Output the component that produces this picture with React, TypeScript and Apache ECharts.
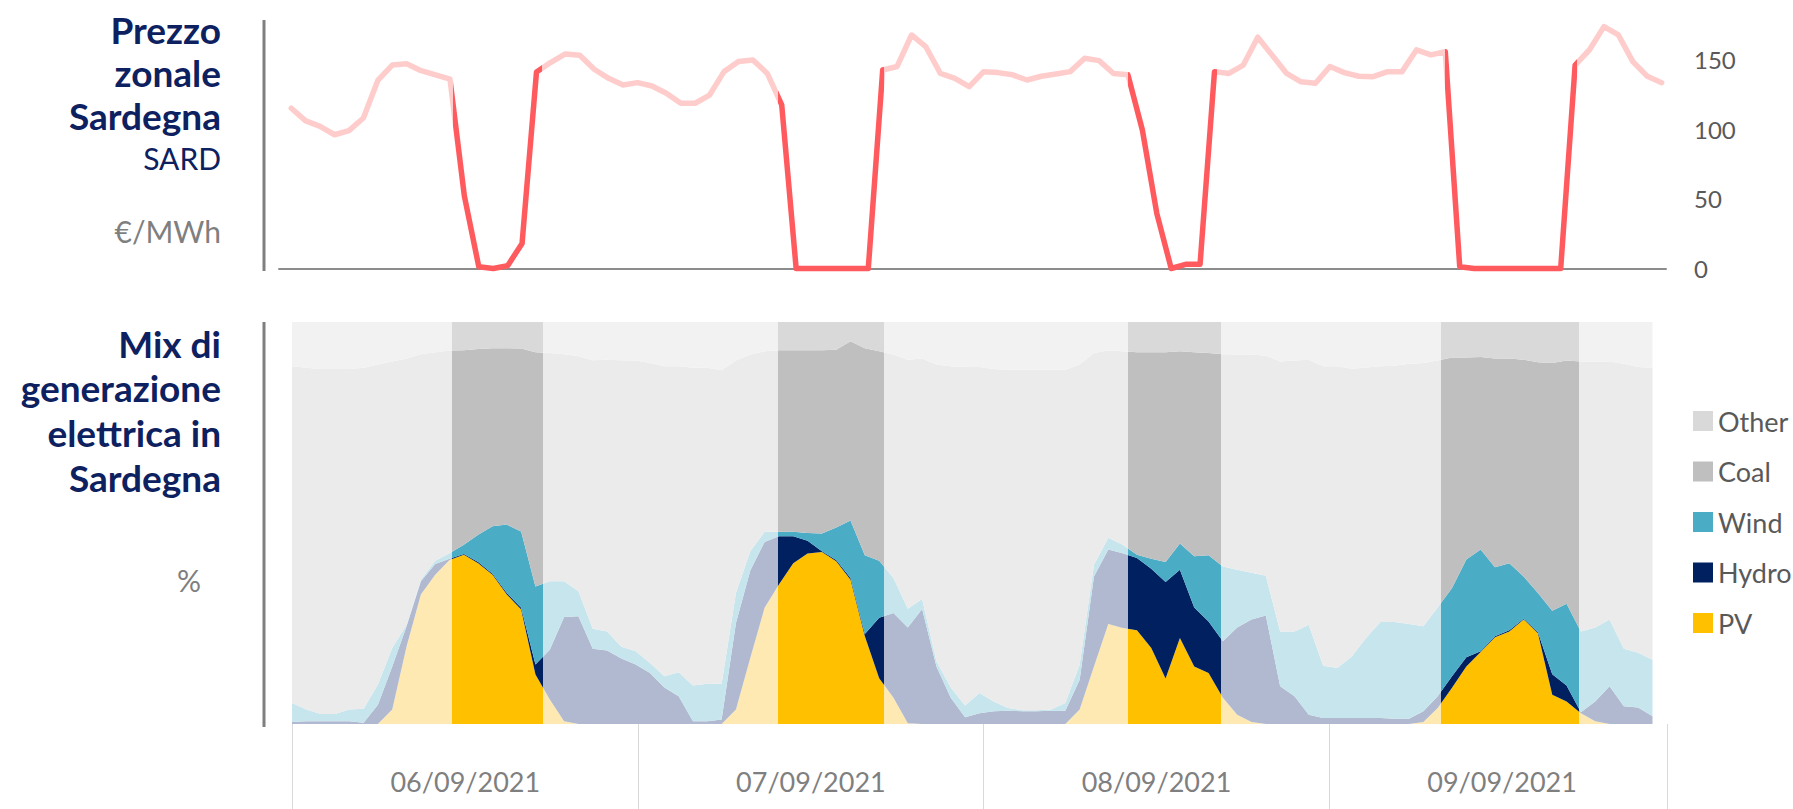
import React, { useEffect, useRef } from 'react';
import * as echarts from 'echarts';

// ---- data ----
const dayLabels = ['06/09/2021', '07/09/2021', '08/09/2021', '09/09/2021'];
const priceTickLabels = [0, 50, 100, 150];

// Zonal price SARD, €/MWh, hourly (4 days x 24 h)
const price = [
  115, 106, 102, 96, 99, 108, 135, 146, 147, 142, 139, 136, 52, 1.3, 0, 2, 18, 141, 148, 154, 153, 143, 136.5, 131.7,
  133.4, 131, 125.8, 118.6, 118.6, 124.5, 141.3, 148.5, 149.7, 140, 117.4, 0, 0, 0, 0, 0, 0, 142.5, 145, 167.6, 159, 140, 136.5, 130.5,
  141.3, 140.6, 139, 135.3, 138, 139.6, 141.3, 150.9, 149.2, 140, 139, 99.4, 39.6, 0, 3, 3, 141.3, 140, 146, 166, 153, 140, 134, 133,
  145, 140.6, 138, 137.7, 141.3, 141.3, 156.9, 153.3, 155.6, 1.3, 0, 0, 0, 0, 0, 0, 0, 146, 157, 173.6, 167.6, 148.5, 138, 133.4,
];

// Generation mix, % (stacked bottom → top: PV, Hydro, Wind, Coal, Other)
const pv = [
  0, 0, 0, 0, 0, 0, 0, 3.6, 19.3, 32.2, 37.1, 40.8, 42.1, 40.0, 37.1, 32.2, 28.5, 12.3, 6.1, 0.7, 0, 0, 0, 0,
  0, 0, 0, 0, 0, 0, 0, 3.6, 16.4, 28.9, 34.7, 40.0, 42.4, 42.8, 40.5, 35.9, 21.8, 11.4, 6.5, 0.2, 0, 0, 0, 0,
  0, 0, 0, 0, 0, 0, 0, 3.6, 14.3, 24.9, 23.9, 23.3, 18.9, 11.3, 21.4, 14.3, 12.7, 6.5, 2.3, 0.5, 0, 0, 0, 0,
  0, 0, 0, 0, 0, 0, 0, 0.5, 4.0, 9.0, 14.3, 17.9, 21.6, 23.0, 26.0, 22.6, 7.3, 5.6, 2.7, 0.7, 0, 0, 0, 0,
];
const hydro = [
  0.5, 0.7, 0.7, 0.7, 0.7, 0.3, 4.8, 10.7, 5.0, 3.3, 2.7, 0.3, 0.2, 0.3, 0.3, 0.4, 0.4, 2.5, 12.4, 25.9, 26.8, 18.7, 18.3, 16.3,
  14.8, 12.7, 9.1, 6.9, 0.7, 0.7, 1.1, 21.5, 21.8, 16.4, 12.0, 6.7, 3.2, 0.2, 0.3, 0.4, 0.6, 15.0, 21.1, 23.8, 28.6, 14.3, 6.5, 1.7,
  2.7, 3.2, 3.3, 3.2, 3.2, 3.3, 3.3, 7.4, 22.4, 18.5, 18.6, 18.0, 19.7, 24.0, 17.0, 14.7, 12.8, 14.1, 21.7, 25.5, 27.0, 9.4, 6.9, 2.3,
  1.5, 1.5, 1.5, 1.5, 1.5, 1.3, 1.3, 2.7, 2.9, 2.9, 2.3, 0.2, 0.2, 0.3, 0.2, 0.2, 5.1, 4.0, 0.2, 4.9, 9.4, 4.4, 4.1, 1.9,
];
const wind = [
  4.7, 2.9, 1.8, 1.8, 2.9, 3.5, 5.0, 4.6, 0.4, 0.4, 0.8, 1.4, 2.3, 6.8, 11.8, 17.0, 19.0, 19.4, 17.0, 8.9, 6.2, 5.0, 4.7, 2.9,
  3.3, 2.5, 2.8, 6.0, 8.9, 9.3, 8.9, 7.5, 4.8, 2.5, 1.1, 1.1, 1.9, 4.4, 8.1, 14.3, 19.6, 14.2, 8.7, 4.7, 2.5, 1.3, 2.6, 2.9,
  5.0, 2.4, 0.7, 0.2, 0.2, 0.3, 1.9, 3.8, 2.9, 2.9, 2.1, 0.8, 2.5, 5.0, 6.5, 12.7, 16.5, 18.6, 14.4, 11.6, 9.9, 13.6, 16.1, 22.4,
  13.0, 12.4, 15.3, 19.9, 23.9, 24.1, 23.6, 21.1, 22.1, 21.9, 24.3, 25.3, 17.2, 16.7, 10.5, 9.8, 15.8, 20.3, 20.1, 18.4, 16.6, 14.3, 13.6, 14.1,
];
const coal = [
  83.8, 85.0, 85.8, 85.8, 84.7, 84.8, 79.6, 71.3, 66.2, 56.1, 51.9, 50.4, 48.4, 46.2, 44.3, 43.9, 45.5, 58.3, 56.8, 56.5, 58.5, 66.8, 67.6, 71.3,
  72.3, 74.6, 77.1, 76.1, 79.0, 78.6, 78.0, 57.8, 48.9, 44.9, 45.2, 45.2, 45.5, 45.6, 44.2, 44.6, 51.5, 52.1, 55.6, 61.9, 59.8, 73.8, 79.9, 84.2,
  81.1, 82.7, 84.1, 84.7, 84.7, 84.5, 82.9, 74.6, 52.7, 46.6, 48.1, 50.4, 51.4, 52.2, 47.8, 50.8, 50.3, 52.8, 53.5, 54.3, 54.7, 67.2, 67.4, 65.9,
  74.5, 75.1, 71.6, 67.3, 63.6, 63.7, 64.7, 65.5, 61.4, 57.4, 50.3, 47.9, 51.9, 50.9, 53.9, 57.4, 61.6, 60.5, 67.2, 66.2, 64.2, 70.9, 71.1, 72.6,
];
const other = [
  11.0, 11.4, 11.7, 11.7, 11.7, 11.4, 10.6, 9.8, 9.1, 8.0, 7.5, 7.1, 7.0, 6.7, 6.5, 6.5, 6.6, 7.5, 7.7, 8.0, 8.5, 9.5, 9.4, 9.5,
  9.6, 10.2, 11.0, 11.0, 11.4, 11.4, 12.0, 9.6, 8.1, 7.3, 7.0, 7.0, 7.0, 7.0, 6.9, 4.8, 6.5, 7.3, 8.1, 9.4, 9.1, 10.6, 11.0, 11.2,
  11.2, 11.7, 11.9, 11.9, 11.9, 11.9, 11.9, 10.6, 7.7, 7.1, 7.3, 7.5, 7.5, 7.5, 7.3, 7.5, 7.7, 8.0, 8.1, 8.1, 8.4, 9.8, 9.6, 9.4,
  11.0, 11.0, 11.6, 11.3, 11.0, 10.9, 10.4, 10.2, 9.6, 8.8, 8.8, 8.7, 9.1, 9.1, 9.4, 10.0, 10.2, 9.6, 9.8, 9.8, 9.8, 10.4, 11.2, 11.4,
];

const mixNames = ['PV', 'Hydro', 'Wind', 'Coal', 'Other'];
const mixValues = [pv, hydro, wind, coal, other];
const legendOrder = ['Other', 'Coal', 'Wind', 'Hydro', 'PV'];
const fullColors = ['#ffc000', '#002060', '#4bacc6', '#bfbfbf', '#d9d9d9'];
const fadedColors = ['#ffe9b3', '#b0b9cf', '#c6e5ed', '#ebebeb', '#f2f2f2'];
const priceFull = '#ff5b5f';
const priceFaded = '#ffcccc';

// highlighted hour ranges (low-price windows)
const priceBands = [[11.2, 17.4], [33.75, 41.1], [58.0, 64.2], [80.0, 89.1]];
const mixBands = [[11.15, 17.5], [33.95, 41.35], [58.4, 64.85], [80.25, 89.9]];

const NAVY = '#0d2160';
const GRAY = '#7f7f7f';
const FONT = 'Lato';

function pieces(bands: number[][], full: string, faded: string) {
  const out: any[] = [];
  let prev = 0;
  bands.forEach(([a, b], i) => {
    if (i === 0) out.push({ lt: a, color: faded });
    else out.push({ gt: prev, lt: a, color: faded });
    out.push({ gte: a, lte: b, color: full });
    prev = b;
  });
  out.push({ gt: prev, color: faded });
  return out;
}

function txt(text: string, x: number, y: number, font: string, fill: string, align = 'right') {
  return {
    type: 'text',
    x,
    y,
    style: {
      text,
      font,
      fill,
      align,
      verticalAlign: 'middle',
      textAlign: align,
      textVerticalAlign: 'middle',
    },
  };
}

export default function App() {
  const ref = useRef<HTMLDivElement>(null);

  useEffect(() => {
    if (!ref.current) return;
    const chart = echarts.init(ref.current, undefined, { renderer: 'svg' });

    // value first, hour second, so that the stack is computed on the y (value) dimension
    const mixSeries = mixNames.map((name, k) => ({
      name,
      type: 'line',
      xAxisIndex: 1,
      yAxisIndex: 1,
      stack: 'mix',
      symbol: 'none',
      smooth: false,
      data: mixValues[k].map((v, i) => [v, i]),
      encode: { x: 1, y: 0 },
      lineStyle: { width: 0, opacity: 0 },
      areaStyle: { opacity: 1 },
      itemStyle: { color: fullColors[k] },
      emphasis: { disabled: true },
      z: 2,
    }));

    const option: any = {
      animation: false,
      textStyle: { fontFamily: FONT },
      grid: [
        { left: 279, top: 20.5, width: 1387, height: 248 },
        { left: 292, top: 322, width: 1360.5, height: 402 },
        { left: 292.5, top: 322, width: 1375.2, height: 402 },
      ],
      xAxis: [
        {
          gridIndex: 0,
          type: 'value',
          min: -0.85,
          max: 95.3,
          position: 'bottom',
          offset: 2,
          axisLine: { show: true, lineStyle: { color: '#8c8c8c', width: 2 } },
          axisTick: { show: false },
          axisLabel: { show: false },
          splitLine: { show: false },
        },
        { gridIndex: 1, type: 'value', min: 0, max: 95, show: false },
        {
          gridIndex: 2,
          type: 'value',
          min: 0,
          max: 95.5,
          interval: 24,
          position: 'bottom',
          axisLine: { show: false },
          axisTick: { show: true, length: 85, lineStyle: { color: '#d9d9d9', width: 1 } },
          axisLabel: { show: false },
          splitLine: { show: false },
        },
        {
          gridIndex: 2,
          type: 'value',
          min: 0,
          max: 95.5,
          interval: 12,
          position: 'bottom',
          axisLine: { show: false },
          axisTick: { show: false },
          splitLine: { show: false },
          axisLabel: {
            show: true,
            margin: 44,
            color: GRAY,
            fontSize: 27,
            fontFamily: FONT,
            formatter: (v: number) => {
              const d = (v - 12) / 24;
              return Number.isInteger(d) && d >= 0 && d < dayLabels.length ? dayLabels[d] : '';
            },
          },
        },
      ],
      yAxis: [
        {
          gridIndex: 0,
          type: 'value',
          min: 0,
          max: 178,
          interval: 50,
          position: 'right',
          axisLine: { show: false },
          axisTick: { show: false },
          splitLine: { show: false },
          axisLabel: {
            margin: 28,
            color: '#595959',
            fontSize: 24,
            fontFamily: FONT,
            formatter: (v: number) => (priceTickLabels.includes(v) ? String(v) : ''),
          },
        },
        { gridIndex: 1, type: 'value', min: 0, max: 100, show: false },
        { gridIndex: 2, type: 'value', min: 0, max: 100, show: false },
      ],
      visualMap: [
        {
          type: 'piecewise',
          show: false,
          dimension: 0,
          seriesIndex: 0,
          pieces: pieces(priceBands, priceFull, priceFaded),
          outOfRange: { color: priceFaded },
        },
        ...mixNames.map((_, k) => ({
          type: 'piecewise',
          show: false,
          dimension: 1,
          seriesIndex: k + 1,
          pieces: pieces(mixBands, fullColors[k], fadedColors[k]),
          outOfRange: { color: fadedColors[k] },
        })),
      ],
      legend: {
        show: true,
        orient: 'vertical',
        left: 1693,
        top: 407.5,
        padding: 0,
        itemWidth: 20,
        itemHeight: 20,
        itemGap: 23.5,
        icon: 'rect',
        selectedMode: false,
        data: legendOrder.map((name) => ({
          name,
          itemStyle: { color: fullColors[mixNames.indexOf(name)] },
        })),
        textStyle: { color: '#595959', fontSize: 27, fontFamily: FONT },
      },
      series: [
        {
          name: 'Prezzo',
          type: 'line',
          xAxisIndex: 0,
          yAxisIndex: 0,
          symbol: 'none',
          clip: false,
          data: price.map((v, i) => [i, v]),
          lineStyle: { width: 5.5, cap: 'round', join: 'round' },
          emphasis: { disabled: true },
          z: 3,
        },
        ...mixSeries,
      ],
      graphic: [
        { type: 'line', shape: { x1: 264, y1: 20, x2: 264, y2: 271 }, style: { stroke: GRAY, lineWidth: 3 } },
        { type: 'line', shape: { x1: 264, y1: 322, x2: 264, y2: 727 }, style: { stroke: GRAY, lineWidth: 3 } },
        txt('Prezzo', 221, 29, `bold 37px ${FONT}`, NAVY),
        txt('zonale', 221, 72, `bold 37px ${FONT}`, NAVY),
        txt('Sardegna', 221, 115, `bold 37px ${FONT}`, NAVY),
        txt('SARD', 221, 158, `30px ${FONT}`, NAVY),
        txt('€/MWh', 221, 231, `30px ${FONT}`, GRAY),
        txt('Mix di', 221, 343, `bold 37px ${FONT}`, NAVY),
        txt('generazione', 221, 387.5, `bold 37px ${FONT}`, NAVY),
        txt('elettrica in', 221, 432, `bold 37px ${FONT}`, NAVY),
        txt('Sardegna', 221, 477, `bold 37px ${FONT}`, NAVY),
        txt('%', 189, 580, `30px ${FONT}`, GRAY, 'center'),
      ],
    };

    chart.setOption(option);
    return () => chart.dispose();
  }, []);

  return (
    <div
      ref={ref}
      style={{ position: 'absolute', left: 0, top: 0, width: 1793, height: 809, background: '#ffffff' }}
    />
  );
}
